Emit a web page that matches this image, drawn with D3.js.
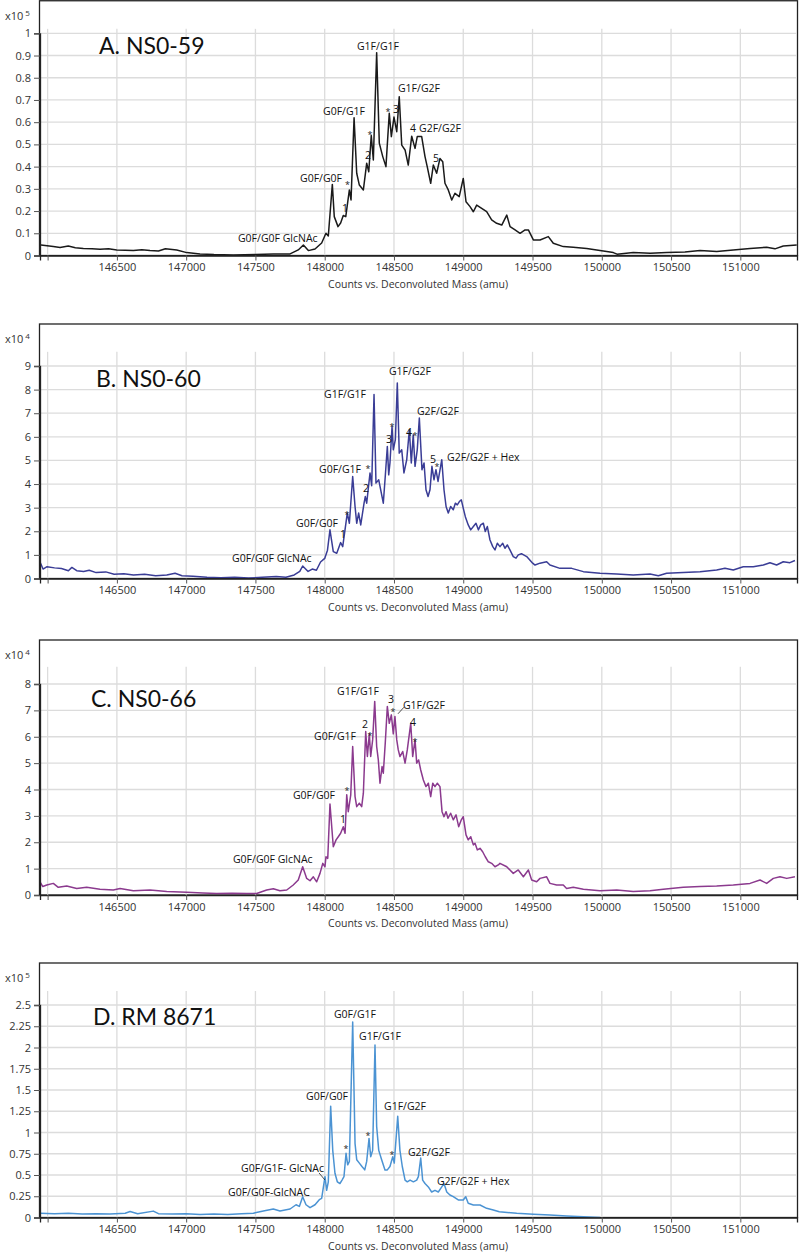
<!DOCTYPE html>
<html>
<head>
<meta charset="utf-8">
<script src="https://cdn.jsdelivr.net/npm/d3@7"></script>
<style>
  body { margin: 0; background: #fff; }
  text { font-family: "Open Sans", "Noto Sans", sans-serif; }
</style>
</head>
<body>
<script>
// ---- data: [mass (amu), counts] ----
var specA = [[145952,0.047],[146041,0.040],[146090,0.036],[146149,0.043],[146200,0.035],[146258,0.032],[146320,0.030],[146378,0.028],[146440,0.030],[146499,0.025],[146560,0.024],[146619,0.022],[146680,0.026],[146739,0.022],[146800,0.020],[146850,0.030],[146883,0.028],[146932,0.025],[147004,0.013],[147100,0.007],[147200,0.004],[147340,0.002],[147500,0.004],[147629,0.007],[147750,0.007],[147809,0.025],[147846,0.047],[147882,0.022],[147930,0.029],[147978,0.056],[148009,0.10],[148026,0.088],[148055,0.32],[148069,0.175],[148096,0.13],[148115,0.146],[148134,0.18],[148152,0.175],[148178,0.295],[148190,0.25],[148212,0.62],[148231,0.37],[148250,0.317],[148279,0.295],[148303,0.415],[148318,0.377],[148336,0.54],[148351,0.43],[148375,0.913],[148394,0.506],[148419,0.445],[148442,0.40],[148466,0.64],[148481,0.535],[148500,0.623],[148520,0.557],[148538,0.715],[148556,0.497],[148580,0.475],[148603,0.407],[148628,0.537],[148652,0.482],[148668,0.535],[148700,0.535],[148724,0.445],[148740,0.40],[148765,0.325],[148784,0.407],[148808,0.37],[148832,0.437],[148852,0.422],[148868,0.325],[148892,0.295],[148917,0.25],[148940,0.28],[148971,0.265],[149000,0.347],[149020,0.242],[149049,0.22],[149073,0.197],[149097,0.227],[149133,0.212],[149169,0.197],[149205,0.16],[149241,0.145],[149278,0.137],[149314,0.182],[149338,0.13],[149374,0.115],[149410,0.10],[149446,0.115],[149470,0.115],[149506,0.07],[149554,0.07],[149614,0.085],[149650,0.055],[149722,0.04],[149794,0.037],[149891,0.032],[149987,0.022],[150083,0.013],[150110,0.006],[150227,0.013],[150350,0.010],[150468,0.013],[150600,0.016],[150709,0.022],[150830,0.018],[150949,0.025],[151070,0.032],[151190,0.037],[151250,0.030],[151310,0.043],[151407,0.047]];

var specB = [[145945,0.70],[145967,0.40],[145996,0.50],[146050,0.45],[146100,0.42],[146150,0.33],[146175,0.47],[146210,0.33],[146260,0.30],[146300,0.35],[146350,0.25],[146420,0.28],[146480,0.18],[146550,0.20],[146620,0.15],[146700,0.18],[146780,0.12],[146860,0.15],[146920,0.22],[146970,0.12],[147050,0.10],[147150,0.05],[147250,0.03],[147350,0.05],[147450,0.02],[147550,0.05],[147650,0.08],[147720,0.05],[147780,0.15],[147820,0.30],[147841,0.53],[147880,0.30],[147910,0.40],[147940,0.35],[147970,0.70],[148000,0.85],[148020,1.2],[148038,2.06],[148062,1.14],[148087,1.07],[148115,1.52],[148130,1.35],[148163,2.77],[148178,2.34],[148202,4.32],[148219,3.05],[148231,2.34],[148245,2.77],[148260,2.27],[148284,3.19],[148293,3.47],[148303,3.19],[148327,4.47],[148339,3.93],[148356,7.79],[148370,4.04],[148390,4.18],[148423,3.19],[148437,4.32],[148452,5.59],[148462,4.39],[148471,4.89],[148486,6.44],[148495,5.45],[148510,5.88],[148524,8.28],[148538,5.31],[148556,5.45],[148572,4.47],[148592,5.03],[148611,6.30],[148625,4.89],[148639,6.09],[148652,4.75],[148668,5.45],[148683,6.80],[148702,4.61],[148717,4.89],[148731,3.76],[148746,3.47],[148760,3.76],[148774,4.75],[148789,4.18],[148803,4.61],[148818,4.11],[148845,5.03],[148861,3.76],[148876,3.05],[148892,2.77],[148909,3.05],[148928,2.91],[148943,3.19],[148957,3.12],[148972,3.26],[148986,3.33],[149000,2.98],[149015,2.62],[149036,2.27],[149054,2.06],[149073,2.20],[149092,2.34],[149109,2.06],[149126,2.27],[149145,2.34],[149159,1.99],[149174,2.20],[149193,1.63],[149213,1.35],[149229,1.21],[149246,1.49],[149265,1.35],[149285,1.49],[149301,1.28],[149318,1.42],[149337,1.21],[149361,0.93],[149381,0.86],[149397,1.00],[149420,1.05],[149458,0.93],[149501,0.65],[149518,0.57],[149554,0.65],[149602,0.71],[149626,0.57],[149698,0.43],[149783,0.43],[149867,0.29],[149987,0.22],[150108,0.19],[150227,0.15],[150348,0.19],[150408,0.12],[150468,0.22],[150588,0.25],[150709,0.29],[150829,0.36],[150889,0.43],[150949,0.36],[151021,0.50],[151093,0.50],[151166,0.57],[151214,0.67],[151262,0.57],[151310,0.71],[151358,0.67],[151394,0.76]];

var specC = [[145945,0.50],[145965,0.32],[145994,0.38],[146041,0.44],[146077,0.29],[146138,0.34],[146210,0.25],[146282,0.29],[146378,0.22],[146474,0.19],[146523,0.25],[146619,0.16],[146739,0.19],[146860,0.13],[147004,0.10],[147120,0.08],[147220,0.06],[147330,0.07],[147437,0.06],[147509,0.06],[147581,0.19],[147629,0.24],[147677,0.16],[147726,0.19],[147773,0.38],[147809,0.57],[147841,1.07],[147870,0.63],[147894,0.54],[147918,0.69],[147942,0.50],[147966,0.82],[147986,1.20],[148002,1.07],[148009,1.45],[148022,1.39],[148038,3.45],[148062,1.83],[148082,2.09],[148098,2.21],[148115,2.34],[148134,2.59],[148147,2.34],[148159,3.80],[148170,3.16],[148188,3.80],[148202,5.63],[148219,3.73],[148231,3.35],[148250,3.48],[148267,3.35],[148279,3.86],[148296,6.20],[148308,5.25],[148322,6.11],[148332,5.25],[148346,5.88],[148361,7.34],[148375,5.63],[148387,5.12],[148399,4.24],[148414,4.87],[148423,4.62],[148437,5.76],[148452,7.15],[148466,6.51],[148481,6.83],[148495,6.11],[148507,6.77],[148520,5.88],[148531,5.50],[148543,5.25],[148563,5.44],[148580,5.00],[148596,5.50],[148621,6.51],[148635,5.25],[148652,5.88],[148664,5.00],[148678,5.12],[148693,4.74],[148712,4.36],[148731,4.11],[148748,4.24],[148765,3.73],[148780,4.24],[148796,4.11],[148813,4.24],[148832,4.11],[148847,3.16],[148861,2.97],[148876,3.16],[148890,2.91],[148909,3.10],[148928,2.85],[148948,3.04],[148967,2.59],[148986,2.85],[149000,2.97],[149020,2.28],[149036,2.09],[149054,2.21],[149073,1.90],[149085,1.96],[149102,1.71],[149121,1.77],[149140,1.64],[149159,1.45],[149181,1.26],[149205,1.20],[149229,1.07],[149253,1.14],[149265,1.20],[149314,1.07],[149361,0.82],[149397,0.95],[149434,0.69],[149470,0.95],[149494,0.57],[149530,0.50],[149554,0.63],[149602,0.69],[149626,0.44],[149674,0.38],[149722,0.38],[149746,0.25],[149794,0.29],[149867,0.22],[149987,0.16],[150108,0.19],[150227,0.13],[150348,0.16],[150444,0.22],[150588,0.29],[150709,0.32],[150829,0.34],[150949,0.38],[151070,0.44],[151142,0.57],[151190,0.44],[151238,0.63],[151286,0.69],[151335,0.63],[151394,0.69]];

var specD = [[145945,0.05],[146050,0.045],[146150,0.05],[146250,0.04],[146350,0.045],[146450,0.04],[146560,0.05],[146595,0.07],[146650,0.045],[146763,0.075],[146800,0.045],[146900,0.04],[147000,0.045],[147100,0.035],[147200,0.04],[147300,0.035],[147400,0.045],[147485,0.05],[147557,0.077],[147629,0.10],[147677,0.077],[147750,0.10],[147793,0.15],[147817,0.13],[147841,0.245],[147865,0.15],[147894,0.115],[147930,0.15],[147961,0.21],[147978,0.225],[148002,0.48],[148014,0.32],[148026,0.42],[148043,1.31],[148058,0.79],[148074,0.52],[148091,0.42],[148110,0.40],[148125,0.44],[148139,0.48],[148154,0.755],[148166,0.62],[148178,0.66],[148202,2.30],[148219,0.87],[148231,0.68],[148250,0.64],[148269,0.60],[148289,0.56],[148303,0.66],[148320,0.93],[148332,0.715],[148346,0.79],[148363,2.03],[148375,1.07],[148390,0.79],[148411,0.68],[148435,0.56],[148452,0.56],[148471,0.60],[148491,0.715],[148502,0.64],[148527,1.19],[148543,0.79],[148560,0.60],[148580,0.44],[148596,0.42],[148616,0.44],[148640,0.42],[148664,0.44],[148676,0.48],[148693,0.70],[148707,0.44],[148724,0.40],[148748,0.36],[148772,0.30],[148796,0.32],[148820,0.30],[148845,0.36],[148861,0.40],[148881,0.30],[148904,0.265],[148928,0.245],[148964,0.206],[149000,0.206],[149018,0.245],[149036,0.167],[149073,0.147],[149121,0.147],[149169,0.108],[149217,0.088],[149260,0.068],[149386,0.05],[149506,0.038],[149626,0.03],[149746,0.018],[149867,0.01],[149987,0.0]];

// ---- ticks ----
var massTicks = [146000, 146500, 147000, 147500, 148000, 148500, 149000, 149500, 150000, 150500, 151000];
var ticksA = [0, 0.1, 0.2, 0.3, 0.4, 0.5, 0.6, 0.7, 0.8, 0.9, 1];
var ticksB = [0, 1, 2, 3, 4, 5, 6, 7, 8, 9];
var ticksC = [0, 1, 2, 3, 4, 5, 6, 7, 8];
var ticksD = [0, 0.25, 0.5, 0.75, 1, 1.25, 1.5, 1.75, 2, 2.25, 2.5];

// ---- peak annotations: [text, mass, counts] ----
var labelsA = [["G0F/G0F GlcNAc",147374,0.061],["G0F/G0F",147822,0.331],["G0F/G1F",147988,0.632],["G1F/G1F",148233,0.925],["G1F/G2F",148529,0.736],["G2F/G2F",148681,0.556],["1",148125,0.196],["2",148291,0.434],["3",148493,0.641],["4",148616,0.556],["5",148782,0.421]];
var starsA = [[148147,0.304],[148309,0.529],[148439,0.632]];

var labelsB = [["G0F/G0F GlcNAc",147331,0.70],["G0F/G0F",147793,2.19],["G0F/G1F",147959,4.48],["G1F/G1F",147995,7.66],["G1F/G2F",148464,8.60],["G2F/G2F",148666,6.94],["G2F/G2F + Hex",148883,4.99],["1",148111,1.72],["2",148276,3.67],["3",148442,5.75],["4",148587,6.05],["5",148760,4.90]];
var starsB = [[148143,2.57],[148294,4.52],[148468,6.30],[148634,5.92],[148792,4.61]];

var labelsC = [["G0F/G0F GlcNAc",147338,1.21],["G0F/G0F",147771,3.64],["G0F/G1F",147923,5.88],["G1F/G1F",148089,7.59],["G1F/G2F",148565,7.06],["1",148111,2.73],["2",148270,6.34],["3",148457,7.29],["4",148616,6.41]];
var starsC = [[148143,3.83],[148308,5.90],[148475,6.83],[148634,5.69]];
var leadersC = [[148529,6.87,148572,7.12]];

var labelsD = [["G0F/G0F-GlcNAC",147302,0.253],["G0F/G1F- GlcNAc",147396,0.535],["G0F/G0F",147865,1.38],["G0F/G1F",148067,2.35],["G1F/G1F",148248,2.09],["G1F/G2F",148428,1.26],["G2F/G2F",148601,0.72],["G2F/G2F + Hex",148810,0.38]];
var starsD = [[148136,0.77],[148294,0.92],[148468,0.70]];
var leadersD = [[147959,0.524,148002,0.441]];

var svg = d3.select("body").append("svg").attr("width", 800).attr("height", 1255);

//Shared mass axis
var x = d3.scaleLinear().domain([145945, 151409]).range([40, 797]);

//Panel layout
var panels = [
  {id: "A", title: "A. NS0-59", tx: 99, ty: 54, top: 0.75, spec: specA, ticks: ticksA, exp: "5", y0: 255.5, vRef: 1, yRef: 33.3, vTop: 1.02, color: "#1a1a1a", labels: labelsA, stars: starsA, leaders: []},
  {id: "B", title: "B. NS0-60", tx: 96, ty: 387, top: 324, spec: specB, ticks: ticksB, exp: "4", y0: 578.5, vRef: 9, yRef: 366, vTop: 9.6, color: "#3a3d96", labels: labelsB, stars: starsB, leaders: []},
  {id: "C", title: "C. NS0-66", tx: 91, ty: 707, top: 640, spec: specC, ticks: ticksC, exp: "4", y0: 895, vRef: 8, yRef: 684, vTop: 8.65, color: "#8b3a8e", labels: labelsC, stars: starsC, leaders: leadersC},
  {id: "D", title: "D. RM 8671", tx: 93, ty: 1025, top: 963, spec: specD, ticks: ticksD, exp: "5", y0: 1217.5, vRef: 2.5, yRef: 1005, vTop: 2.665, color: "#4b93d3", labels: labelsD, stars: starsD, leaders: leadersD}
];

panels.forEach(drawPanel);

function drawPanel(p) {
  var y = d3.scaleLinear().domain([0, p.vRef]).range([p.y0, p.yRef]);
  var g = svg.append("g");
  var gridTop = y(p.vTop);

  //Frame
  g.append("rect")
    .attr("x", 39.5).attr("y", p.top)
    .attr("width", 758).attr("height", p.y0 - p.top)
    .attr("fill", "#fff").attr("stroke", "#222").attr("stroke-width", 1.3);

  //Grid lines
  g.selectAll(".hgrid").data(p.ticks.filter(function(d) { return d > 0; })).enter()
    .append("line")
    .attr("x1", 40).attr("x2", 797)
    .attr("y1", function(d) { return y(d); }).attr("y2", function(d) { return y(d); })
    .attr("stroke", "#dcdcdc").attr("stroke-width", 1.3);
  g.selectAll(".vgrid").data(massTicks).enter()
    .append("line")
    .attr("x1", function(d) { return x(d); }).attr("x2", function(d) { return x(d); })
    .attr("y1", gridTop).attr("y2", p.y0)
    .attr("stroke", "#dcdcdc").attr("stroke-width", 1.3);

  //Spectrum
  var clipId = "clip" + p.id;
  svg.append("clipPath").attr("id", clipId)
    .append("rect").attr("x", 40).attr("y", p.top).attr("width", 757).attr("height", p.y0 - p.top);
  var line = d3.line()
    .x(function(d) { return x(d[0]); })
    .y(function(d) { return y(d[1]); });
  g.append("path")
    .datum(p.spec)
    .attr("clip-path", "url(#" + clipId + ")")
    .attr("d", line)
    .attr("fill", "none")
    .attr("stroke", p.color)
    .attr("stroke-width", 1.5)
    .attr("stroke-linejoin", "round");

  //Axes
  var yAxis = d3.axisLeft(y).tickValues(p.ticks).tickSize(6).tickPadding(3)
    .tickFormat(function(d) { return String(+d.toFixed(2)); });
  var ya = g.append("g").attr("transform", "translate(40,0)").call(yAxis);
  var xAxis = d3.axisBottom(x).tickValues(massTicks).tickSize(5).tickPadding(3)
    .tickFormat(function(d) { return d === 146000 ? "" : d; });
  var xa = g.append("g").attr("transform", "translate(0," + p.y0 + ")").call(xAxis);
  [ya, xa].forEach(function(a) {
    a.select(".domain").attr("stroke", "#222").attr("stroke-width", 1.3);
    a.selectAll(".tick line").attr("stroke", "#555");
    a.selectAll(".tick text").attr("fill", "#333").style("font-size", "11px")
      .style("font-family", "'Open Sans', sans-serif");
  });

  //Axis title
  g.append("text")
    .attr("x", 418).attr("y", p.y0 + 32)
    .attr("text-anchor", "middle")
    .attr("fill", "#333")
    .style("font-size", "10.5px")
    .text("Counts vs. Deconvoluted Mass (amu)");

  //Exponent label
  var ex = g.append("text").attr("x", 5).attr("y", p.top + 19).attr("fill", "#333").style("font-size", "11px");
  ex.append("tspan").text("x10");
  ex.append("tspan").attr("dx", 2).attr("dy", -4).style("font-size", "8px").text(p.exp);

  //Panel title
  g.append("text")
    .attr("x", p.tx).attr("y", p.ty)
    .attr("fill", "#111")
    .style("font-family", "Lato, 'Open Sans', sans-serif")
    .style("font-size", "23px")
    .text(p.title);

  //Peak labels
  g.selectAll(".lbl").data(p.labels).enter()
    .append("text")
    .attr("x", function(d) { return x(d[1]); })
    .attr("y", function(d) { return y(d[2]); })
    .attr("fill", "#111")
    .style("font-size", "10.5px")
    .text(function(d) { return d[0]; });

  g.selectAll(".star").data(p.stars).enter()
    .append("text")
    .attr("x", function(d) { return x(d[0]); })
    .attr("y", function(d) { return y(d[1]); })
    .attr("fill", "#222")
    .style("font-size", "9px")
    .text("*");

  g.selectAll(".leader").data(p.leaders).enter()
    .append("line")
    .attr("x1", function(d) { return x(d[0]); }).attr("y1", function(d) { return y(d[1]); })
    .attr("x2", function(d) { return x(d[2]); }).attr("y2", function(d) { return y(d[3]); })
    .attr("stroke", "#222").attr("stroke-width", 0.8);
}
</script>
</body>
</html>
